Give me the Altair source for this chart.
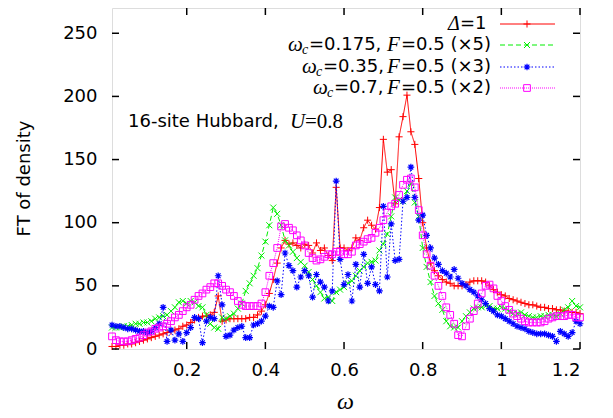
import altair as alt
import pandas as pd

omega = [round(0.01 * i, 2) for i in range(1, 121)]

red_delta1 = [2, 2, 3, 3, 4, 4, 5, 6, 7, 8,
              9, 10, 11, 12, 13, 14, 15, 16, 18, 19,
              21, 23, 25, 26, 26, 27, 29, 42, 22, 23,
              24, 24, 24, 24, 24, 25, 25, 27, 30, 35,
              44, 55, 68, 80, 86, 83, 84, 82, 80, 83,
              82, 76, 84, 78, 80, 74, 70, 128, 80, 80,
              78, 80, 88, 86, 96, 102, 98, 95, 112, 166,
              140, 142, 115, 168, 184, 201, 172, 162, 135, 100,
              80, 68, 62, 58, 55, 53, 52, 50, 50, 50,
              51, 53, 54, 54, 54, 53, 50, 47, 45, 43,
              42, 40, 39, 38, 37, 36, 35, 35, 34, 33,
              33, 32, 32, 31, 31, 30, 30, 29, 29, 28]

green_wc0175 = [17, 17, 17, 18, 18, 19, 20, 20, 21, 21,
                22, 24, 25, 26, 27, 30, 33, 37, 38, 36,
                38, 37, 34, 33, 27, 20, 17, 16, 25, 24,
                26, 28, 32, 36, 46, 52, 58, 64, 74, 85,
                98, 112, 107, 98, 86, 82, 77, 72, 69, 66,
                61, 55, 50, 45, 40, 41, 38, 45, 47, 49,
                52, 54, 58, 62, 65, 68, 69, 70, 78, 83,
                91, 105, 120, 118, 117, 125, 131, 116, 105, 80,
                65, 53, 42, 36, 31, 22, 18, 17, 17, 22,
                26, 29, 32, 33, 33, 34, 34, 32, 32, 33,
                32, 30, 28, 28, 29, 27, 26, 25, 25, 26,
                26, 27, 27, 26, 28, 31, 33, 38, 34, 33]

blue_wc035 = [19, 18, 18, 17, 16, 16, 15, 14, 14, 13,
              14, 17, 20, 33, 6, 15, 7, 12, 6, 13,
              17, 25, 24, 5, 22, 25, 24, 58, 35, 10,
              11, 15, 17, 18, 9, 9, 19, 20, 22, 26,
              34, 33, 54, 43, 76, 66, 62, 49, 57, 62,
              58, 41, 59, 53, 49, 38, 46, 133, 71, 51,
              59, 38, 67, 49, 75, 52, 65, 51, 46, 113,
              57, 99, 70, 71, 117, 120, 144, 120, 102, 106,
              90, 80, 72, 67, 62, 60, 57, 63, 56, 52,
              50, 47, 45, 42, 39, 36, 32, 30, 27, 26,
              24, 22, 20, 18, 17, 16, 14, 13, 12, 12,
              12, 11, 10, 6, 14, 12, 10, 13, 22, 20]

magenta_wc07 = [10, 7, 6, 6, 6, 7, 8, 9, 11, 13,
                14, 16, 17, 18, 20, 22, 25, 27, 30, 33,
                35, 39, 42, 44, 47, 49, 52, 52, 50, 47,
                45, 42, 38, 35, 34, 34, 34, 34, 36, 45,
                58, 68, 80, 97, 99, 96, 94, 90, 86, 82,
                76, 72, 70, 71, 73, 75, 75, 77, 77, 75,
                75, 77, 82, 83, 85, 87, 88, 92, 96, 102,
                108, 113, 115, 122, 130, 134, 135, 128, 110, 90,
                75, 66, 58, 50, 42, 33, 27, 20, 11, 10,
                18, 24, 30, 36, 44, 50, 51, 48, 42, 38,
                34, 31, 28, 26, 24, 22, 21, 21, 21, 21,
                22, 24, 25, 26, 26, 26, 27, 27, 25, 25]

x_ticks = [0.2, 0.4, 0.6, 0.8, 1.0, 1.2]
y_ticks = [0, 50, 100, 150, 200, 250]

W, H = 468, 341
SANS = "DejaVu Sans"
SERIF = "Liberation Serif"

PLUS = "M-1,0L1,0M0,-1L0,1"
XMARK = "M-1,-1L1,1M-1,1L1,-1"
STAR = "M-1,0L1,0M0,-1L0,1M-0.7,-0.7L0.7,0.7M-0.7,0.7L0.7,-0.7"

xscale = alt.Scale(domain=[0.01, 1.2], nice=False, zero=False)
yscale = alt.Scale(domain=[0, 270], nice=False, zero=False)

xaxis = alt.Axis(values=x_ticks, format="~g", title="ω", grid=False, domain=False,
                 ticks=False, tickSize=0, labelPadding=12, labelFont=SANS, labelFontSize=18,
                 labelColor="black", titleFont=SERIF, titleFontStyle="italic",
                 titleFontWeight="normal", titleFontSize=24, titleColor="black",
                 titleX=233, titleY=59, titleBaseline="alphabetic", titleAnchor="start",
                 titleAlign="center")
yaxis = alt.Axis(values=y_ticks, format="d", title="FT of density", grid=False,
                 domain=False, ticks=False, tickSize=0, labelPadding=15, labelFont=SANS,
                 labelFontSize=18, labelColor="black", titleFont=SANS,
                 titleFontWeight="normal", titleFontSize=18, titleColor="black",
                 titleAngle=-90, titleX=-88, titleY=170, titleAlign="center",
                 titleBaseline="middle", titleAnchor="start")

X = alt.X("w:Q", scale=xscale, axis=xaxis)
Y = alt.Y("v:Q", scale=yscale, axis=yaxis)

series = [
    (red_delta1, "#ff0000", [1, 0], PLUS, 50, 1.0),
    (green_wc0175, "#00ee00", [5, 3], XMARK, 36, 1.0),
    (blue_wc035, "#0000ff", [1.5, 2], STAR, 45, 1.2),
    (magenta_wc07, "#ff00ff", [1, 1], "square", 45, 1.0),
]

layers = []
for vals, col, dash, shape, size, sw in series:
    df = pd.DataFrame({"w": omega, "v": vals})
    layers.append(alt.Chart(df).mark_line(color=col, strokeWidth=1, strokeDash=dash).encode(x=X, y=Y))
    layers.append(alt.Chart(df).mark_point(shape=shape, size=size, color=col, filled=False,
                                           strokeWidth=sw, opacity=1).encode(x=X, y=Y))

# inward ticks on all four sides
xt = pd.DataFrame({"w": x_ticks})
yt = pd.DataFrame({"v": y_ticks})
layers.append(alt.Chart(xt).mark_rule(color="black", strokeWidth=1.5).encode(x=X, y=alt.value(H), y2=alt.value(H - 7)))
layers.append(alt.Chart(xt).mark_rule(color="black", strokeWidth=1.5).encode(x=X, y=alt.value(0), y2=alt.value(7)))
layers.append(alt.Chart(yt).mark_rule(color="black", strokeWidth=1.5).encode(y=Y, x=alt.value(0), x2=alt.value(7)))
layers.append(alt.Chart(yt).mark_rule(color="black", strokeWidth=1.5).encode(y=Y, x=alt.value(W), x2=alt.value(W - 7)))

one = pd.DataFrame({"a": [0]})


def txt(s, x, y, font=SANS, size=18, style="normal"):
    return alt.Chart(one).mark_text(font=font, fontSize=size, fontStyle=style, align="left",
                                    baseline="middle", color="black").encode(
        x=alt.value(x), y=alt.value(y), text=alt.value(s))


rows_y = [16, 37, 59, 80]
# legend texts
layers.append(txt("Δ", 336, rows_y[0], SERIF, 20, "italic"))
layers.append(txt("=1", 348, rows_y[0]))
legend_rows = [("=0.175,", 176, "(×5)"), ("=0.35,", 190, "(×3)"), ("=0.7,", 201, "(×2)")]
for (num, wx, mult), ry in zip(legend_rows, rows_y[1:]):
    layers.append(txt("ω", wx, ry, SERIF, 21, "italic"))
    layers.append(txt("c", wx + 14, ry + 5, SERIF, 14, "italic"))
    layers.append(txt(num, wx + 21, ry))
    layers.append(txt("F", 275, ry, SERIF, 21, "italic"))
    layers.append(txt("=0.5 " + mult, 289, ry))

# legend samples
for (vals, col, dash, shape, size, sw), ry in zip(series, rows_y):
    layers.append(alt.Chart(one).mark_rule(color=col, strokeWidth=1, strokeDash=dash).encode(
        x=alt.value(388), x2=alt.value(443), y=alt.value(ry)))
    layers.append(alt.Chart(one).mark_point(shape=shape, size=size, color=col, filled=False,
                                            strokeWidth=sw, opacity=1).encode(
        x=alt.value(415), y=alt.value(ry)))

# annotation
layers.append(txt("16-site Hubbard,", 16, 114))
layers.append(txt("U", 178, 114, SERIF, 21, "italic"))
layers.append(txt("=0.8", 193, 114, SERIF, 21))

chart = alt.layer(*layers).properties(
    width=W, height=H,
    autosize=alt.AutoSizeParams(type="none"),
    padding={"left": 104, "top": 0, "right": 25, "bottom": 68},
).configure_view(stroke="black", strokeWidth=2).configure(background="white")

chart.save("out.html", embed_options={"renderer": "svg", "actions": False})
